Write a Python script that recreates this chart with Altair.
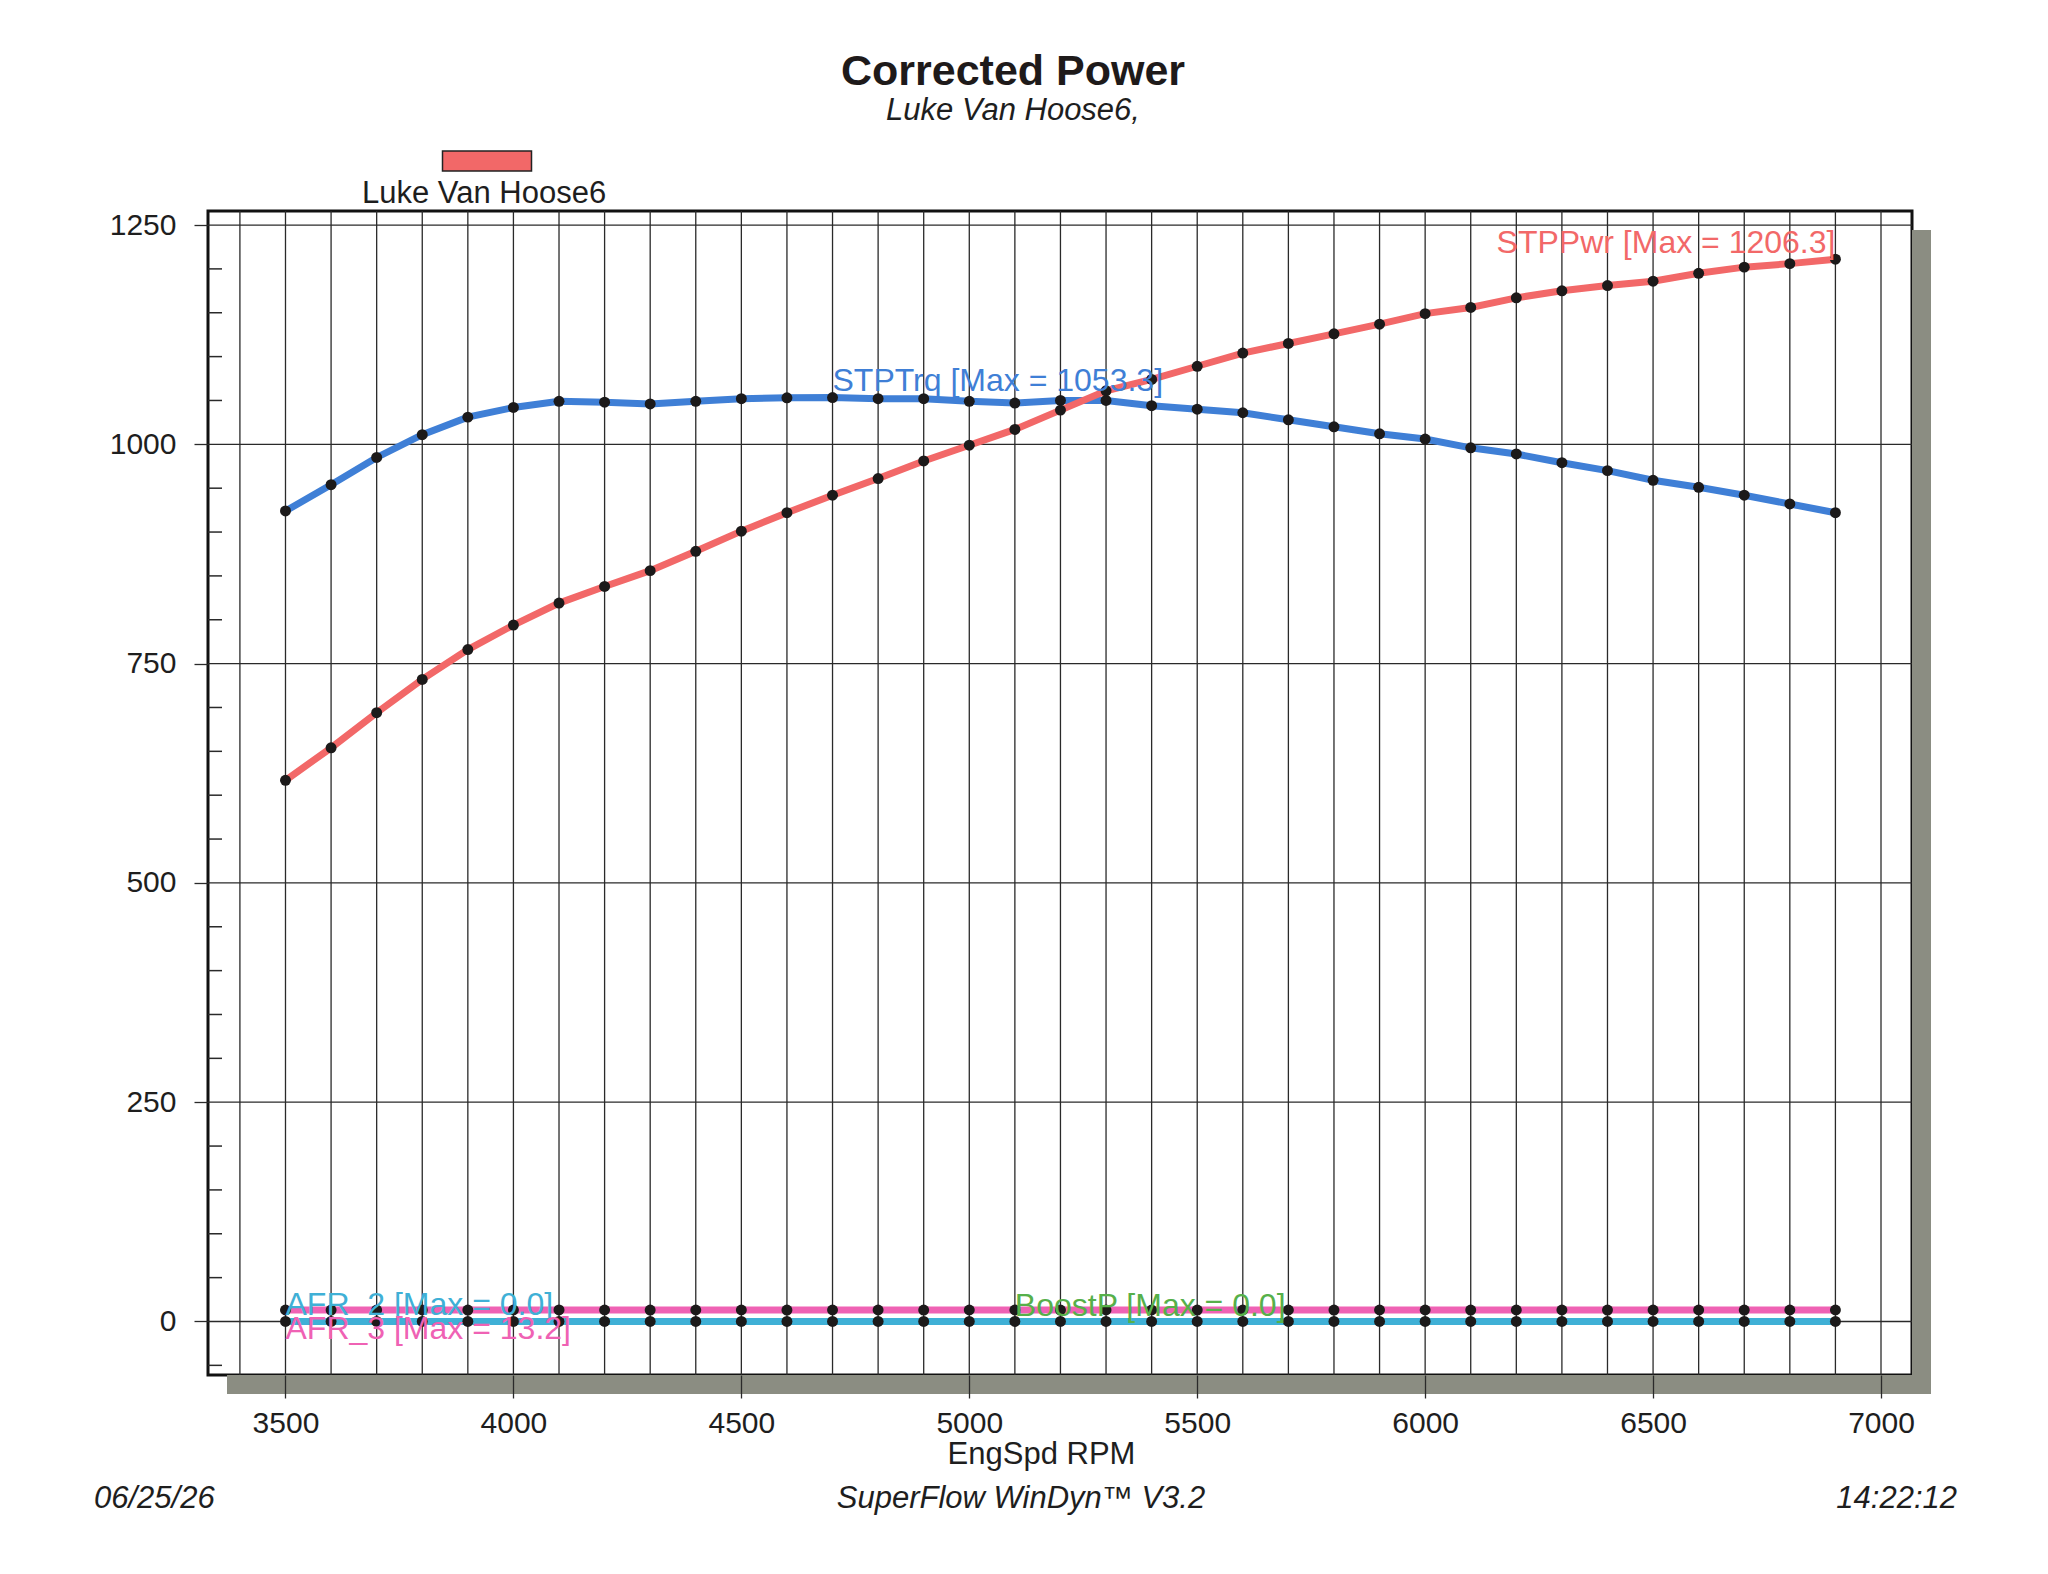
import altair as alt
import pandas as pd

# ---------------- data ----------------
rpm = [3500, 3600, 3700, 3800, 3900, 4000, 4100, 4200, 4300, 4400,
       4500, 4600, 4700, 4800, 4900, 5000, 5100, 5200, 5300, 5400,
       5500, 5600, 5700, 5800, 5900, 6000, 6100, 6200, 6300, 6400,
       6500, 6600, 6700, 6800, 6900]
stp_pwr = [617, 654, 694, 732, 766, 794, 819, 838, 856, 878,
           901, 922, 942, 961, 981, 999, 1017, 1039, 1061, 1074,
           1089, 1104, 1115, 1126, 1137, 1149, 1156, 1167, 1175, 1181,
           1186, 1195, 1202, 1206, 1211]
stp_trq = [924, 954, 985, 1011, 1031, 1042, 1049, 1048, 1046, 1049,
           1052, 1053, 1053.3, 1052, 1052, 1049, 1047, 1050, 1050, 1044,
           1040, 1036, 1028, 1020, 1012, 1006, 996, 989, 979, 970,
           959, 951, 942, 932, 922]
afr_3 = [13.1, 13.0, 13.1, 13.1, 13.0, 13.1, 13.2, 13.1, 13.0, 13.1,
         13.1, 13.0, 13.1, 13.1, 13.0, 13.1, 13.1, 13.0, 13.1, 13.1,
         13.0, 13.1, 13.1, 13.0, 13.1, 13.1, 13.0, 13.1, 13.1, 13.0,
         13.1, 13.1, 13.0, 13.1, 13.1]
afr_2 = [0.0] * len(rpm)
boost_p = [0.0] * len(rpm)

run_name = "Luke Van Hoose6"
x_grid = [3400, 3500, 3600, 3700, 3800, 3900, 4000, 4100, 4200, 4300, 4400,
          4500, 4600, 4700, 4800, 4900, 5000, 5100, 5200, 5300, 5400, 5500,
          5600, 5700, 5800, 5900, 6000, 6100, 6200, 6300, 6400, 6500, 6600,
          6700, 6800, 6900, 7000]
x_ticks = [3500, 4000, 4500, 5000, 5500, 6000, 6500, 7000]
y_major = [0, 250, 500, 750, 1000, 1250]
y_minor = [-50, 50, 100, 150, 200, 300, 350, 400, 450, 550, 600, 650, 700,
           800, 850, 900, 950, 1050, 1100, 1150, 1200]

series_labels = {
    "STPPwr": "STPPwr [Max = 1206.3]",
    "STPTrq": "STPTrq [Max = 1053.3]",
    "AFR_2": "AFR_2  [Max = 0.0]",
    "AFR_3": "AFR_3  [Max = 13.2]",
    "BoostP": "BoostP [Max = 0.0]",
}

# ---------------- styling ----------------
W, H = 1704, 1164
X_DOM = [3330, 7068]
Y_DOM = [-61, 1266]
FONT = "Liberation Sans"
RED = "#f26868"
BLUE = "#3f7fd6"
PINK = "#ef62b4"
CYAN = "#3fb0d6"
GREEN = "#56b04a"
DOT = "#1c1a1a"
GRID = "#2a2a2a"
SHADOW = "#8b8d82"
TXT = "#1e1e1e"
LBL = 32

x_axis = alt.Axis(values=x_ticks, format="d", grid=False, domain=False,
                  tickSize=23, tickColor=GRID, tickWidth=1.3, labelFont=FONT,
                  labelFontSize=30, labelColor=TXT, labelPadding=10,
                  labelFlush=False, labelOverlap=False,
                  title="EngSpd RPM", titleFont=FONT, titleFontSize=31,
                  titleFontWeight="normal", titleColor=TXT,
                  titlePadding=1, titleX=833, zindex=1)
y_axis = alt.Axis(values=y_major, format="d", grid=False, domain=False,
                  tickSize=14, tickColor=GRID, tickWidth=1.3, labelFont=FONT,
                  labelFontSize=30, labelColor=TXT, labelPadding=18,
                  labelFlush=False, labelOverlap=False, title=None)

xs = alt.Scale(domain=X_DOM, nice=False, zero=False)
ys = alt.Scale(domain=Y_DOM, nice=False, zero=False)
X = alt.X("rpm:Q", scale=xs, axis=x_axis)
Y = alt.Y("val:Q", scale=ys, axis=y_axis)

def sdf(values, name):
    return pd.DataFrame({"rpm": rpm, "val": values, "series": name})

d_pwr = sdf(stp_pwr, "STPPwr")
d_trq = sdf(stp_trq, "STPTrq")
d_afr2 = sdf(afr_2, "AFR_2")
d_afr3 = sdf(afr_3, "AFR_3")
d_boost = sdf(boost_p, "BoostP")

one = pd.DataFrame({"k": [0]})

# shadow behind the frame
shadow_b = alt.Chart(one).mark_rect(color=SHADOW).encode(
    x=alt.value(19), x2=alt.value(W + 19), y=alt.value(H), y2=alt.value(H + 19))
shadow_r = alt.Chart(one).mark_rect(color=SHADOW).encode(
    x=alt.value(W), x2=alt.value(W + 19), y=alt.value(19), y2=alt.value(H + 19))

# grid lines
vgrid = alt.Chart(pd.DataFrame({"rpm": x_grid})).mark_rule(
    color=GRID, strokeWidth=1.3).encode(x=X)
hgrid = alt.Chart(pd.DataFrame({"val": y_major})).mark_rule(
    color=GRID, strokeWidth=1.3).encode(y=Y)
minor = alt.Chart(pd.DataFrame({"val": y_minor})).mark_rule(
    color=GRID, strokeWidth=1.5).encode(y=Y, x=alt.value(0), x2=alt.value(14))

def line(df, color):
    return alt.Chart(df).mark_line(strokeWidth=7, color=color).encode(x=X, y=Y)

run_legend = alt.Legend(
    orient="none", legendX=154, legendY=-61, title=run_name,
    titleOrient="bottom", titleAnchor="start", titleFont=FONT,
    titleFontSize=31, titleFontWeight="normal", titleColor=TXT,
    titlePadding=5, titleLimit=600, labelExpr="''", labelFontSize=1,
    symbolType="M-4.45,-1L4.45,-1L4.45,1L-4.45,1Z", symbolSize=400,
    symbolStrokeColor="#222", symbolStrokeWidth=1.5, symbolOpacity=1,
    symbolOffset=114, padding=0, labelOffset=0)

# legend carrier: one run entry, no drawable position (filtered)
leg_df = pd.DataFrame({"rpm": [None], "val": [None], "run": [run_name]})
legend_layer = alt.Chart(leg_df).mark_point(
    filled=True, shape="square", opacity=1, stroke="#222",
    strokeWidth=1.5).encode(
    x=X, y=Y,
    color=alt.Color("run:N", scale=alt.Scale(domain=[run_name], range=[RED]),
                    legend=run_legend))

l_boost = line(d_boost, GREEN)
l_afr2 = line(d_afr2, CYAN)
l_afr3 = line(d_afr3, PINK)
l_trq = line(d_trq, BLUE)
l_pwr = line(d_pwr, RED)

dots_df = pd.concat([d_afr2, d_afr3, d_trq, d_pwr])
dots = alt.Chart(dots_df).mark_circle(size=120, color=DOT, opacity=1).encode(x=X, y=Y)

def label(df_row, color, align, dy):
    return alt.Chart(df_row).mark_text(
        font=FONT, fontSize=LBL, color=color, align=align,
        baseline="alphabetic", dy=dy).encode(x=X, y=Y, text="t:N")

lab_pwr = label(pd.DataFrame({"rpm": [rpm[-1]], "val": [stp_pwr[-1]],
                              "t": [series_labels["STPPwr"]]}), RED, "right", -6)
lab_trq = label(pd.DataFrame({"rpm": [rpm[12]], "val": [stp_trq[12]],
                              "t": [series_labels["STPTrq"]]}), BLUE, "left", -7)
lab_afr2 = label(pd.DataFrame({"rpm": [rpm[0]], "val": [afr_2[0]],
                               "t": [series_labels["AFR_2"]]}), CYAN, "left", -6)
lab_afr3 = label(pd.DataFrame({"rpm": [rpm[0]], "val": [afr_3[0]],
                               "t": [series_labels["AFR_3"]]}), PINK, "left", 29)
lab_boost = label(pd.DataFrame({"rpm": [rpm[16]], "val": [boost_p[16]],
                                "t": [series_labels["BoostP"]]}), GREEN, "left", -5)

def footer(txt, x, align):
    return alt.Chart(pd.DataFrame({"t": [txt]})).mark_text(
        font=FONT, fontSize=31, fontStyle="italic", color=TXT,
        align=align, baseline="alphabetic").encode(
        x=alt.value(x), y=alt.value(1297), text="t:N")

f_date = footer("06/25/26", -114, "left")
f_sw = footer("SuperFlow WinDyn\u2122 V3.2", 813, "center")
f_time = footer("14:22:12", 1749, "right")

chart = alt.layer(
    shadow_b, shadow_r, vgrid, hgrid, minor, legend_layer,
    l_boost, l_afr2, l_afr3, l_trq, l_pwr, dots,
    lab_pwr, lab_trq, lab_afr2, lab_afr3, lab_boost,
    f_date, f_sw, f_time,
).properties(
    width=W, height=H,
    autosize=alt.AutoSizeParams(type="none"),
    padding={"left": 200, "top": 203, "right": 120, "bottom": 185},
    title=alt.TitleParams(
        text="Corrected Power", subtitle="Luke Van Hoose6,",
        font=FONT, fontSize=43, fontWeight="bold", color="#1e1a1a",
        subtitleFont=FONT, subtitleFontSize=31, subtitleFontStyle="italic",
        subtitleColor=TXT, subtitlePadding=2,
        anchor="middle", frame="group", dx=-47, offset=24),
    background="white",
).configure_view(stroke="#111111", strokeWidth=3, fill="white")

chart.save("out.html", embed_options={"renderer": "svg", "actions": False})
